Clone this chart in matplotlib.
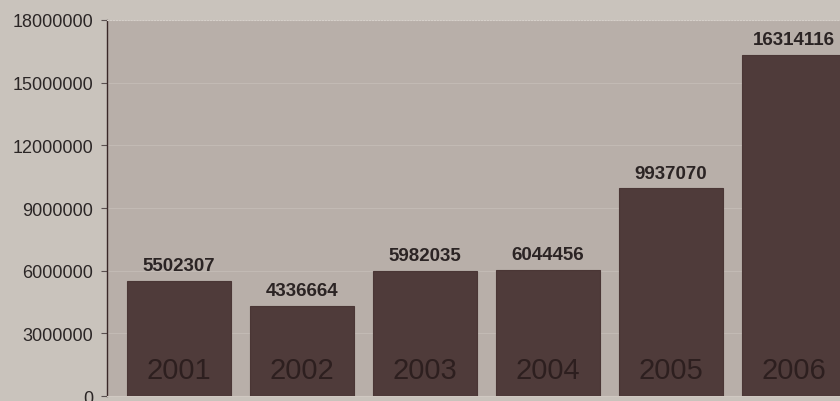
import matplotlib
matplotlib.use("Agg")
import matplotlib.pyplot as plt
from matplotlib.ticker import FixedLocator

years = ["2001", "2002", "2003", "2004", "2005", "2006"]
values = [5502307, 4336664, 5982035, 6044456, 9937070, 16314116]
yticks = [0, 3000000, 6000000, 9000000, 12000000, 15000000, 18000000]

plt.rcParams['font.family'] = ['Liberation Sans', 'DejaVu Sans']

fig = plt.figure(figsize=(8.4, 4.02), dpi=100)
fig.patch.set_facecolor('#c9c3bc')
ax = fig.add_axes([0.1274, 0.012, 0.9036, 0.936])
ax.set_facecolor('#b8afa9')

x = list(range(len(years)))
bars = ax.bar(x, values, width=0.84, color='#4f3b3a', edgecolor='#4a3635', linewidth=0.8, zorder=3)

for xi, v, yr in zip(x, values, years):
    ax.annotate(str(v), (xi, v), xytext=(0, 5), textcoords='offset points',
                ha='center', va='bottom', fontsize=13.5, fontweight='bold', color='#2b2424')
    ax.text(xi, 1250000, yr, ha='center', va='center', fontsize=21,
            color='#2d1f1f', zorder=4)

ax.set_xlim(-0.585, 5.585)
ax.set_ylim(0, 18000000)
ax.yaxis.set_major_locator(FixedLocator(yticks))
ax.set_yticklabels([str(t) for t in yticks], fontsize=13, color='#2b2626')
ax.tick_params(axis='y', length=4, width=0.8, color='#5a5050', pad=6)
ax.set_xticks([])
ax.grid(axis='y', color='#c2bab4', linewidth=0.8, zorder=0)

ax.spines['left'].set_color('#3a2828')
ax.spines['left'].set_linewidth(1.0)
ax.spines['top'].set_color('#d6d0ca')
ax.spines['top'].set_linestyle(':')
ax.spines['right'].set_visible(False)
ax.spines['bottom'].set_color('#d0c9c2')

fig.savefig('out.png', dpi=100, facecolor=fig.get_facecolor())
